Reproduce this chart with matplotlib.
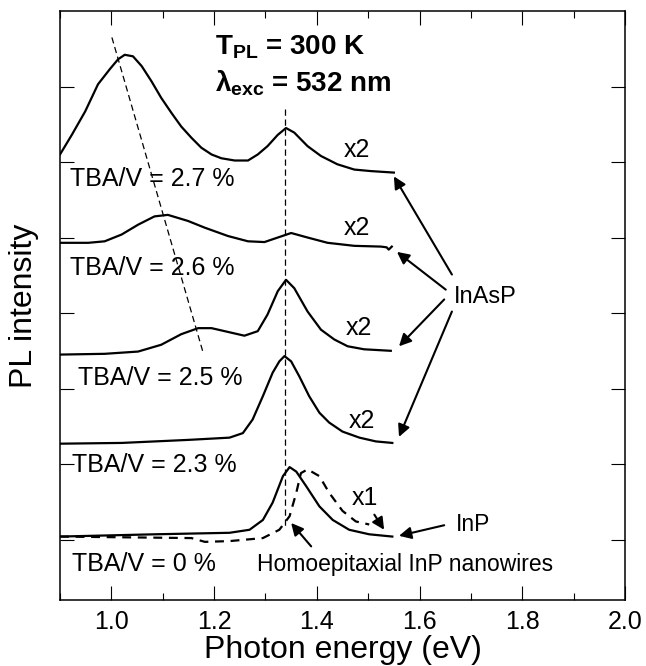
import matplotlib
matplotlib.use('Agg')
import matplotlib.pyplot as plt
from matplotlib.ticker import MultipleLocator

# PL spectra (energy in eV, intensity in stacked arbitrary units)
energy_27 = [0.900, 0.923, 0.949, 0.974, 0.997, 1.013, 1.026, 1.042, 1.059, 1.078, 1.097, 1.117,
             1.136, 1.156, 1.175, 1.195, 1.214, 1.240, 1.266, 1.285, 1.304, 1.324, 1.340, 1.356,
             1.382, 1.408, 1.440, 1.473, 1.505, 1.550]
pl_27 = [5.10, 5.36, 5.67, 6.03, 6.23, 6.36, 6.42, 6.40, 6.27, 6.07, 5.85, 5.65,
         5.47, 5.32, 5.19, 5.10, 5.05, 5.02, 5.02, 5.10, 5.21, 5.36, 5.45, 5.39,
         5.21, 5.08, 4.97, 4.90, 4.88, 4.86]

energy_26 = [0.900, 0.955, 0.987, 1.020, 1.052, 1.084, 1.110, 1.149, 1.182, 1.227, 1.266, 1.298,
             1.324, 1.350, 1.382, 1.421, 1.473, 1.525, 1.536, 1.540, 1.546]
pl_26 = [3.93, 3.93, 3.95, 4.04, 4.17, 4.28, 4.30, 4.22, 4.13, 4.02, 3.95, 3.94,
         4.00, 4.06, 4.00, 3.93, 3.89, 3.88, 3.87, 3.84, 3.88]

energy_25 = [0.900, 0.987, 1.052, 1.097, 1.136, 1.169, 1.195, 1.227, 1.259, 1.285, 1.304, 1.324,
             1.340, 1.356, 1.382, 1.408, 1.434, 1.460, 1.492, 1.544]
pl_25 = [2.45, 2.46, 2.49, 2.58, 2.72, 2.80, 2.80, 2.75, 2.70, 2.76, 2.98, 3.29,
         3.44, 3.33, 3.02, 2.78, 2.65, 2.56, 2.52, 2.50]

energy_23 = [0.900, 1.020, 1.149, 1.230, 1.256, 1.275, 1.295, 1.314, 1.327, 1.337, 1.350, 1.366,
             1.385, 1.405, 1.424, 1.450, 1.483, 1.515, 1.547]
pl_23 = [1.27, 1.28, 1.32, 1.35, 1.41, 1.59, 1.90, 2.21, 2.36, 2.43, 2.36, 2.16,
         1.90, 1.68, 1.55, 1.43, 1.35, 1.30, 1.28]

energy_0 = [0.900, 1.084, 1.230, 1.269, 1.295, 1.314, 1.334, 1.347, 1.360, 1.379, 1.405, 1.431,
            1.463, 1.502, 1.547]
pl_0 = [0.04, 0.07, 0.09, 0.13, 0.26, 0.49, 0.84, 0.96, 0.90, 0.71, 0.44, 0.26,
        0.13, 0.07, 0.04]

energy_homo = [0.900, 1.156, 1.182, 1.230, 1.295, 1.327, 1.347, 1.360, 1.369, 1.382, 1.405, 1.424,
               1.450, 1.476, 1.502]
pl_homo = [0.04, 0.02, -0.03, -0.02, 0.02, 0.13, 0.31, 0.62, 0.88, 0.93, 0.84, 0.62,
           0.38, 0.24, 0.20]

# guide lines
inp_peak_x = [1.338, 1.338]
inp_peak_y = [5.70, 0.17]
shift_x = [1.001, 1.178]
shift_y = [6.65, 2.49]

x_ticks = [1.0, 1.2, 1.4, 1.6, 1.8, 2.0]
x_tick_labels = ['1.0', '1.2', '1.4', '1.6', '1.8', '2.0']
y_ticks = [0, 1, 2, 3, 4, 5, 6]

plt.rcParams['font.family'] = ['Liberation Sans', 'DejaVu Sans']
plt.rcParams['mathtext.fontset'] = 'custom'
plt.rcParams['mathtext.rm'] = 'Liberation Sans'
plt.rcParams['mathtext.bf'] = 'Liberation Sans:bold'
plt.rcParams['mathtext.it'] = 'Liberation Sans:italic'

fig = plt.figure(figsize=(6.46, 6.66), dpi=100)
ax = fig.add_axes([0.0929, 0.0991, 0.8746, 0.8844])

for e, p in [(energy_27, pl_27), (energy_26, pl_26), (energy_25, pl_25),
             (energy_23, pl_23), (energy_0, pl_0)]:
    ax.plot(e, p, color='black', lw=1.6, solid_joinstyle='round')
ax.plot(energy_homo, pl_homo, color='black', lw=1.6, dashes=(4, 3))

ax.plot(inp_peak_x, inp_peak_y, color='black', lw=0.9, dashes=(5, 3))
ax.plot(shift_x, shift_y, color='black', lw=0.9, dashes=(5, 3))

# labels of the samples
ax.text(0.919, 4.68, 'TBA/V = 2.7 %', fontsize=18)
ax.text(0.919, 3.50, 'TBA/V = 2.6 %', fontsize=18)
ax.text(0.935, 2.05, 'TBA/V = 2.5 %', fontsize=18)
ax.text(0.923, 0.89, 'TBA/V = 2.3 %', fontsize=18)
ax.text(0.923, -0.41, 'TBA/V = 0 %', fontsize=18)
ax.text(1.283, -0.41, 'Homoepitaxial InP nanowires', fontsize=16.5)

ax.text(1.453, 5.06, 'x2', fontsize=18)
ax.text(1.453, 4.04, 'x2', fontsize=18)
ax.text(1.457, 2.71, 'x2', fontsize=18)
ax.text(1.463, 1.48, 'x2', fontsize=18)
ax.text(1.467, 0.46, 'x1', fontsize=18)

ax.text(1.201, 6.42, r'$\mathbf{T_{PL}}$' + ' = 300 K', fontsize=20, fontweight='bold')
ax.text(1.201, 5.93, r'$\mathbf{\lambda_{exc}}$' + ' = 532 nm', fontsize=20, fontweight='bold')

arrow = dict(arrowstyle='-|>', color='black', lw=1.5, mutation_scale=18, shrinkA=0, shrinkB=0)
ax.text(1.667, 3.13, 'InAsP', fontsize=17)
ax.annotate('', xy=(1.550, 4.81), xytext=(1.663, 3.51), arrowprops=arrow)
ax.annotate('', xy=(1.556, 3.81), xytext=(1.651, 3.31), arrowprops=arrow)
ax.annotate('', xy=(1.560, 2.56), xytext=(1.648, 3.18), arrowprops=arrow)
ax.annotate('', xy=(1.560, 1.36), xytext=(1.663, 3.02), arrowprops=arrow)

ax.text(1.671, 0.11, 'InP', fontsize=16.5)
ax.annotate('', xy=(1.560, 0.05), xytext=(1.648, 0.19), arrowprops=arrow)
ax.annotate('', xy=(1.531, 0.13), xytext=(1.512, 0.33), arrowprops=arrow)
ax.annotate('', xy=(1.350, 0.22), xytext=(1.389, -0.09), arrowprops=arrow)

ax.set_xlim(0.9, 2.0)
ax.set_ylim(-0.8, 7.0)
ax.set_xticks(x_ticks)
ax.set_xticklabels(x_tick_labels)
ax.xaxis.set_minor_locator(MultipleLocator(0.1))
ax.set_yticks(y_ticks)
ax.set_yticklabels([])
ax.tick_params(which='major', direction='in', top=True, right=True, length=10, width=0.8,
               labelsize=18, pad=7)
ax.tick_params(which='minor', direction='in', top=True, right=True, length=5, width=0.8)
for s in ax.spines.values():
    s.set_linewidth(1.1)

ax.set_xlabel('Photon energy (eV)', fontsize=23, labelpad=1)
ax.set_ylabel('PL intensity', fontsize=23, labelpad=8)

fig.savefig('out.png', dpi=100)
